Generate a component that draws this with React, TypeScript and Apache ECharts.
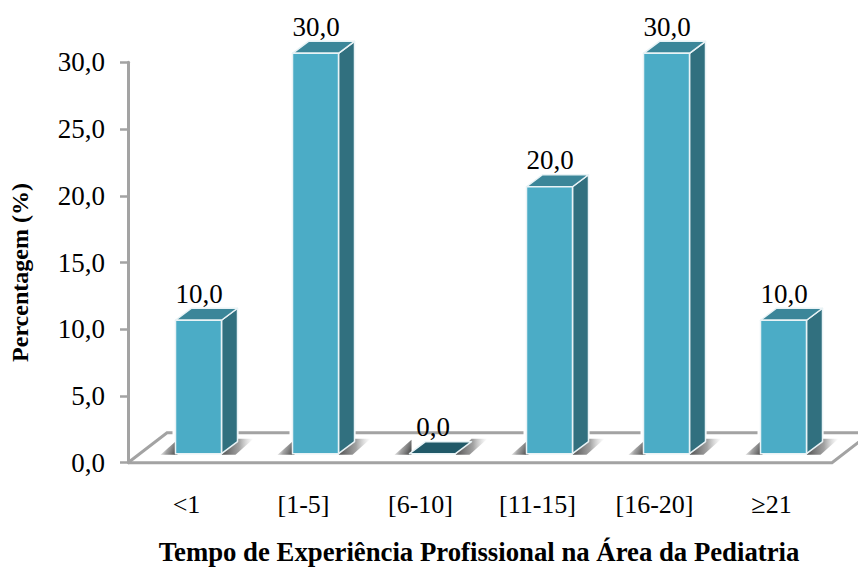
import React, { useEffect, useRef } from "react";
import * as echarts from "echarts";

const categories = ["<1", "[1-5]", "[6-10]", "[11-15]", "[16-20]", "≥21"];
const percentages = [10, 30, 0, 20, 30, 10];
const yTicks = { min: 0, max: 30, interval: 5 };
const xTitle = "Tempo de Experiência Profissional na Área da Pediatria";
const yTitle = "Percentagem (%)";

const FRONT = "#4bacc6";
const SIDE = "#31707f";
const TOP = "#3b8699";
const ZERO = "#215968";
const AXIS = "#a3a3a3";
const SERIF = "'Liberation Serif', serif";

// Depth of the extruded columns and of the floor they stand on, in pixels.
const DEPTH_X = 16;
const DEPTH_Y = 12;
const FLOOR_X = 39;
const FLOOR_Y = 30;
const FLOOR_OVERHANG = 2;
const BAR_SHIFT_X = 12;
const BAR_SHIFT_Y = 9;
const BAR_WIDTH = 46;

function renderFloor(params: any) {
  const c = params.coordSys;
  const l = c.x;
  const r = c.x + c.width + FLOOR_OVERHANG;
  const b = c.y + c.height;
  const line = { stroke: AXIS, lineWidth: 3, fill: "none" };
  return {
    type: "group",
    silent: true,
    children: [
      {
        type: "polyline",
        shape: {
          points: [
            [l, b],
            [l + FLOOR_X, b - FLOOR_Y],
            [r + FLOOR_X, b - FLOOR_Y],
          ],
        },
        style: line,
      },
      {
        type: "polyline",
        shape: {
          points: [
            [l, b],
            [r, b],
            [r + FLOOR_X, b - FLOOR_Y],
          ],
        },
        style: line,
      },
    ],
  };
}

function renderColumn(params: any, api: any) {
  const value = api.value(1);
  const [cx, top] = api.coord([api.value(0), value]);
  const [, base] = api.coord([api.value(0), 0]);
  const x0 = cx + BAR_SHIFT_X - BAR_WIDTH / 2;
  const x1 = x0 + BAR_WIDTH;
  const yBase = base - BAR_SHIFT_Y;
  const yTop = top - BAR_SHIFT_Y;
  const edge = { stroke: "#e9f3f6", lineWidth: 1.5, lineJoin: "round" };

  // Soft cast shadows: darkest where they meet the column.
  const leftFade = new echarts.graphic.LinearGradient(1, 0.8, 0, 0.4, [
    { offset: 0, color: "rgba(60,60,60,0.95)" },
    { offset: 0.55, color: "rgba(100,100,100,0.6)" },
    { offset: 1, color: "rgba(160,160,160,0)" },
  ]);
  const rightFade = new echarts.graphic.LinearGradient(0, 0, 1, 0, [
    { offset: 0, color: "rgba(70,70,70,0.95)" },
    { offset: 0.55, color: "rgba(100,100,100,0.6)" },
    { offset: 1, color: "rgba(170,170,170,0)" },
  ]);

  // White halo that interrupts the floor's back line beside each column.
  const halo = {
    type: "rect",
    shape: { x: x0 - 3, y: yBase - 24, width: BAR_WIDTH + DEPTH_X + 4, height: 6 },
    style: { fill: "#fff" },
  };

  const shadows = [
    {
      type: "polygon",
      shape: {
        points: [
          [x0 - 15, yBase + 1],
          [x0 + 2, yBase + 1],
          [x0 + 2, yBase - 14],
        ],
      },
      style: { fill: leftFade },
    },
    {
      type: "polygon",
      shape: {
        points: [
          [x1, yBase + 1],
          [x1 + DEPTH_X, yBase - 15],
          [x1 + 32, yBase - 15],
          [x1 + 14, yBase + 1],
        ],
      },
      style: { fill: rightFade },
    },
  ];

  if (value === 0) {
    return {
      type: "group",
      children: [
        ...shadows,
        {
          type: "polygon",
          shape: {
            points: [
              [x0, yBase],
              [x0 + DEPTH_X, yBase - DEPTH_Y],
              [x1 + DEPTH_X, yBase - DEPTH_Y],
              [x1, yBase],
            ],
          },
          style: { fill: ZERO, ...edge },
        },
      ],
    };
  }

  return {
    type: "group",
    children: [
      halo,
      ...shadows,
      {
        type: "polygon",
        shape: {
          points: [
            [x1, yBase],
            [x1 + DEPTH_X, yBase - DEPTH_Y],
            [x1 + DEPTH_X, yTop - DEPTH_Y],
            [x1, yTop],
          ],
        },
        style: { fill: SIDE, ...edge },
      },
      {
        type: "polygon",
        shape: {
          points: [
            [x0, yTop],
            [x0 + DEPTH_X, yTop - DEPTH_Y],
            [x1 + DEPTH_X, yTop - DEPTH_Y],
            [x1, yTop],
          ],
        },
        style: { fill: TOP, ...edge },
      },
      {
        type: "rect",
        shape: { x: x0, y: yTop, width: BAR_WIDTH, height: yBase - yTop },
        style: { fill: FRONT, ...edge },
      },
    ],
  };
}

// Value captions sit above the top face, centred on the column's front.
function renderCaption(params: any, api: any) {
  const value = api.value(1);
  const [cx, top] = api.coord([api.value(0), value]);
  return {
    type: "text",
    silent: true,
    x: cx + BAR_SHIFT_X + 0.5,
    y: top - BAR_SHIFT_Y - 13,
    style: {
      text: value.toFixed(1).replace(".", ","),
      fontFamily: SERIF,
      fontSize: 27,
      fill: "#000",
      align: "center",
      verticalAlign: "bottom",
    },
  };
}

export default function App() {
  const ref = useRef<HTMLDivElement>(null);

  useEffect(() => {
    const chart = echarts.init(ref.current!, undefined, { renderer: "svg" });
    chart.setOption({
      animation: false,
      backgroundColor: "#fff",
      textStyle: { fontFamily: SERIF },
      grid: { left: 128, top: 62.3, width: 702, height: 400.4, outerBoundsMode: "none" },
      xAxis: {
        type: "category",
        data: categories,
        axisLine: { show: false },
        axisTick: { show: false },
        axisLabel: { color: "#000", fontSize: 26, fontFamily: SERIF, margin: 29 },
        name: xTitle,
        nameLocation: "middle",
        nameGap: 76,
        nameTextStyle: { color: "#000", fontSize: 26.75, fontWeight: "bold", fontFamily: SERIF },
      },
      yAxis: {
        type: "value",
        min: yTicks.min,
        max: yTicks.max,
        interval: yTicks.interval,
        splitLine: { show: false },
        axisLine: { show: true, lineStyle: { color: AXIS, width: 3 } },
        axisTick: { show: true, length: 8, lineStyle: { color: AXIS, width: 2.5 } },
        axisLabel: {
          color: "#000",
          fontSize: 27,
          fontFamily: SERIF,
          margin: 23,
          padding: [5, 0, 0, 0],
          formatter: (v: number) => v.toFixed(1).replace(".", ","),
        },
        name: yTitle,
        nameLocation: "middle",
        nameGap: 96,
        nameTextStyle: {
          color: "#000",
          fontSize: 24,
          fontWeight: "bold",
          fontFamily: SERIF,
          padding: [0, 20, 0, 0],
        },
      },
      series: [
        {
          type: "custom",
          renderItem: renderFloor,
          data: [0],
          silent: true,
          z: 1,
          clip: false,
        },
        {
          type: "custom",
          renderItem: renderColumn,
          data: percentages.map((v, i) => [i, v]),
          encode: { x: 0, y: 1 },
          clip: false,
          z: 2,
        },
        {
          type: "custom",
          renderItem: renderCaption,
          data: percentages.map((v, i) => [i, v]),
          encode: { x: 0, y: 1 },
          clip: false,
          z: 3,
        },
      ],
    });
    return () => chart.dispose();
  }, []);

  return <div ref={ref} style={{ position: "fixed", left: 0, top: 0, width: 858, height: 567 }} />;
}
